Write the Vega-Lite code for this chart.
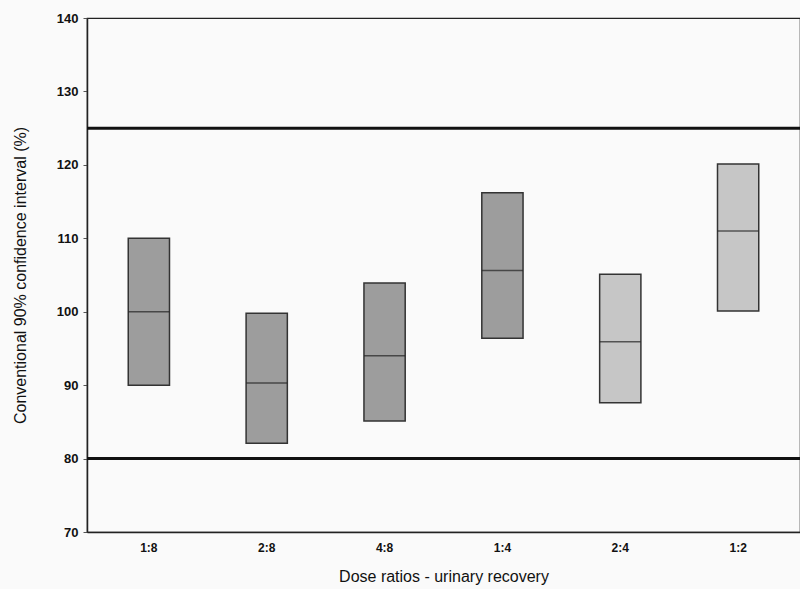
{
  "$schema": "https://vega.github.io/schema/vega-lite/v6.json",
  "autosize": "none",
  "padding": {"left": 87, "top": 18, "right": 0, "bottom": 57},
  "width": 713,
  "height": 514,
  "background": "#fafafa",
  "config": {
    "view": {"stroke": "#222", "strokeWidth": 1.2},
    "font": "Liberation Sans"
  },
  "datasets": {
    "boxes": [
      {"ratio": "1:8", "low": 90, "mid": 100, "high": 110, "shade": "dark"},
      {"ratio": "2:8", "low": 82.1, "mid": 90.3, "high": 99.8, "shade": "dark"},
      {"ratio": "4:8", "low": 85.1, "mid": 94, "high": 103.9, "shade": "dark"},
      {"ratio": "1:4", "low": 96.4, "mid": 105.6, "high": 116.2, "shade": "dark"},
      {"ratio": "2:4", "low": 87.6, "mid": 95.9, "high": 105.1, "shade": "light"},
      {"ratio": "1:2", "low": 100.1, "mid": 111, "high": 120.1, "shade": "light"}
    ],
    "limits": [{"v": 80}, {"v": 125}]
  },
  "layer": [
    {
      "data": {"name": "boxes"},
      "mark": {"type": "bar", "stroke": "#333", "strokeWidth": 1.5},
      "encoding": {
        "x": {
          "field": "ratio", "type": "nominal", "sort": null,
          "scale": {"paddingInner": 0.65, "paddingOuter": 0.35},
          "axis": {
            "title": "Dose ratios -  urinary recovery",
            "titleFontSize": 16, "titleFontWeight": "normal", "titleColor": "#111",
            "titlePadding": 15,
            "labelAngle": 0, "labelFontSize": 12, "labelFontWeight": "bold", "labelColor": "#111",
            "labelPadding": 10, "ticks": false,
            "domainColor": "#222", "domainWidth": 1.5
          }
        },
        "y": {
          "field": "low", "type": "quantitative",
          "scale": {"domain": [70, 140], "nice": false, "zero": false},
          "axis": {
            "title": "Conventional 90% confidence interval (%)",
            "titleFontSize": 16, "titleFontWeight": "normal", "titleColor": "#111",
            "titlePadding": 28,
            "values": [70, 75, 80, 85, 90, 95, 100, 105, 110, 115, 120, 125, 130, 135, 140],
            "labelExpr": "datum.value % 10 == 0 ? datum.label : ''",
            "labelFontSize": 13, "labelFontWeight": "bold", "labelColor": "#111",
            "tickSize": 4, "tickColor": "#555", "labelPadding": 5,
            "domainColor": "#222", "domainWidth": 1.5, "grid": false
          }
        },
        "y2": {"field": "high"},
        "color": {
          "field": "shade", "type": "nominal",
          "scale": {"domain": ["dark", "light"], "range": ["#9d9d9d", "#c6c6c6"]},
          "legend": null
        }
      }
    },
    {
      "data": {"name": "boxes"},
      "mark": {"type": "tick", "color": "#222", "thickness": 1.5, "size": 41},
      "encoding": {
        "x": {"field": "ratio", "type": "nominal", "sort": null},
        "y": {"field": "mid", "type": "quantitative"}
      }
    },
    {
      "data": {"name": "limits"},
      "mark": {"type": "rule", "color": "#111", "strokeWidth": 3},
      "encoding": {
        "y": {"field": "v", "type": "quantitative"}
      }
    }
  ]
}
